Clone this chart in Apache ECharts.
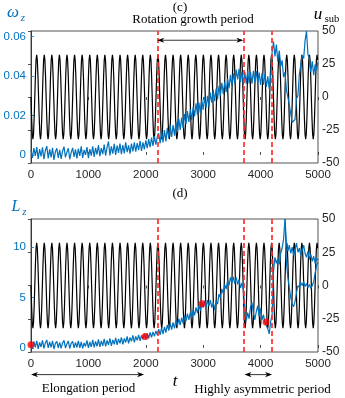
<!DOCTYPE html>
<html><head><meta charset="utf-8">
<script src="https://cdn.jsdelivr.net/npm/echarts@6/dist/echarts.min.js"></script>
<style>html,body{margin:0;padding:0;background:#fff}#c{width:345px;height:398px}</style>
</head><body><div id="c"></div>
<script>
// ---------- data ----------
const tStep = 25;              // sampling step of the blue curves (t units)
const omegaZ = [
0.0025,-0.0015,0.0035,-0.0005,0.0040,-0.0020,0.0030,-0.0008,0.0038,-0.0022,
0.0022,0.0045,-0.0018,0.0028,-0.0012,0.0036,-0.0025,0.0016,0.0034,-0.0015,
0.0026,-0.0020,0.0020,0.0042,-0.0012,0.0014,0.0034,-0.0022,0.0012,0.0036,
-0.0010,0.0028,-0.0018,0.0032,-0.0005,0.0044,-0.0015,0.0026,0.0000,0.0040,
-0.0016,0.0030,-0.0004,0.0044,-0.0010,0.0036,0.0002,0.0050,-0.0006,0.0034,
0.0004,0.0052,-0.0004,0.0040,0.0068,-0.0002,0.0044,0.0006,0.0056,0.0000,
0.0048,0.0010,0.0058,0.0004,0.0050,0.0008,0.0064,0.0014,0.0048,0.0006,
0.0058,0.0018,0.0064,0.0016,0.0060,0.0024,0.0072,0.0020,0.0064,0.0028,
0.0074,0.0034,0.0080,0.0040,0.0088,0.0046,0.0095,0.0052,0.0092,0.0110,
0.0059,0.0121,0.0063,0.0126,0.0069,0.0137,0.0086,0.0150,0.0091,0.0152,
0.0098,0.0167,0.0115,0.0183,0.0127,0.0189,0.0136,0.0207,0.0156,0.0222,
0.0167,0.0231,0.0177,0.0246,0.0196,0.0262,0.0203,0.0266,0.0213,0.0281,
0.0229,0.0295,0.0238,0.0300,0.0246,0.0316,0.0265,0.0330,0.0273,0.0337,
0.0282,0.0351,0.0301,0.0366,0.0308,0.0371,0.0318,0.0388,0.0337,0.0406,
0.0350,0.0414,0.0361,0.0433,0.0383,0.0437,0.0370,0.0423,0.0357,0.0420,
0.0362,0.0425,0.0363,0.0421,0.0362,0.0427,0.0369,0.0426,0.0362,0.0418,
0.0355,0.0415,0.0356,0.0412,0.0345,0.0399,0.0336,0.0395,0.0520,0.0575,
0.0500,0.0560,0.0475,0.0530,0.0450,0.0480,0.0395,0.0420,0.0330,0.0335,
0.0255,0.0250,0.0165,0.0170,0.0180,0.0285,0.0300,0.0410,0.0400,0.0505,
0.0490,0.0580,0.0628,0.0510,0.0490,0.0420,0.0475,0.0405,0.0460,0.0430,
0.0470];
const Lz = [
0.35,-0.05,0.65,0.05,0.70,-0.10,0.55,0.10,0.75,-0.05,
0.50,0.80,0.00,0.60,0.05,0.70,-0.10,0.45,0.65,0.00,
0.55,-0.05,0.50,0.75,0.00,0.40,0.70,-0.05,0.45,0.65,
0.00,0.55,0.05,0.70,0.00,0.60,-0.05,0.50,0.15,0.75,
0.00,0.60,0.10,0.80,0.05,0.65,0.15,0.85,0.10,0.70,
0.20,0.90,0.15,0.75,0.30,0.95,0.20,0.80,0.35,1.00,
0.30,0.90,0.45,1.05,0.35,0.95,0.55,1.15,0.45,1.05,
0.65,1.25,0.55,1.15,0.75,1.30,0.70,1.25,0.85,1.40,
0.90,1.45,0.95,1.55,1.05,1.60,1.15,1.70,1.30,1.87,
1.29,2.01,1.38,2.10,1.52,2.29,1.72,2.44,1.81,2.53,
1.95,2.73,2.17,2.90,2.28,3.02,2.45,3.23,2.67,3.40,
2.78,3.52,2.95,3.78,3.25,4.03,3.45,4.23,3.70,4.53,
4.00,4.70,4.05,4.75,4.15,4.75,4.00,4.55,3.75,4.70,
4.35,5.35,5.00,5.87,5.40,6.28,5.85,6.70,6.20,7.00,
6.45,7.05,6.35,7.00,6.30,6.80,5.95,6.45,5.80,4.00,
2.70,3.50,2.90,4.10,4.50,3.50,2.80,3.60,4.20,3.10,
3.90,2.80,3.30,2.50,2.60,1.90,1.40,2.60,3.30,7.60,
9.00,8.40,8.90,8.30,9.40,9.90,10.80,12.80,10.50,9.60,
10.20,9.40,10.00,9.20,9.80,10.40,9.50,9.90,9.20,9.70,
10.20,9.40,9.00,9.60,8.80,9.30,8.60,9.10,8.40,8.90,
8.70];
const LzBranchStart = 4425;    // second (lower) blue branch after the peak
const LzBranch = [12.8,8.5,7.0,6.0,5.0,4.4,4.1,4.6,5.5,6.2,6.0,6.5,6.2,6.6,6.1,6.4,6.0,6.3,5.9,6.2,6.6,7.4,8.2,8.5];
const forcingPeriod = 132;     // black u_sub forcing
const forcingCycle = [0,-16,-28,-32,-28,-16,0,16,28,32,28,16];
const tMax = 5000;
const periodLines = [2200, 3710, 4200];
const dotT = [0, 1990, 2980, 4095];
const dotL = [0.33, 1.15, 4.4, 2.57];
const omegaTicks = [0, 0.02, 0.04, 0.06];
const LzTicks = [0, 5, 10];

// ---------- build ----------
const omegaData = omegaZ.map((v, i) => [i * tStep, v]);
const LzData = Lz.map((v, i) => [i * tStep, v]);
const LzBranchData = LzBranch.map((v, i) => [LzBranchStart + i * tStep, v]);
const forcing = [];
const n = forcingCycle.length;
for (let k = 0; k * forcingPeriod / n <= tMax; k++) forcing.push([k * forcingPeriod / n, forcingCycle[k % n]]);

const BLUE = '#0072BD', INK = '#262626';
const FONT = 'Liberation Sans';
const SERIF = 'Liberation Serif';

function xAx(grid, pos) {
  return {
    type: 'value', gridIndex: grid, min: 0, max: tMax, interval: 1000, position: pos,
    axisLine: { show: false },
    axisTick: { show: true, inside: true, length: 3, lineStyle: { color: INK, width: 0.8 } },
    axisLabel: { show: pos === 'bottom', color: INK, fontSize: 11.5, fontFamily: FONT, margin: 6, formatter: v => String(v) },
    splitLine: { show: false }
  };
}
function leftAx(grid, min, max, ticks, fmt) {
  return {
    type: 'value', gridIndex: grid, min: min, max: max, position: 'left',
    axisLine: { show: true, lineStyle: { color: '#4d9fd6', width: 1 } },
    axisTick: { show: true, inside: true, length: 3, customValues: ticks, lineStyle: { color: BLUE, width: 0.8 } },
    axisLabel: { show: true, customValues: ticks, color: BLUE, fontSize: 11.5, fontFamily: FONT, margin: 5, formatter: fmt },
    splitLine: { show: false }
  };
}
function rightAx(grid) {
  return {
    type: 'value', gridIndex: grid, min: -50, max: 50, interval: 25, position: 'right',
    axisLine: { show: true, lineStyle: { color: INK, width: 0.8 } },
    axisTick: { show: true, inside: true, length: 3, lineStyle: { color: INK, width: 0.8 } },
    axisLabel: { show: true, color: INK, fontSize: 12, fontFamily: FONT, margin: 4 },
    splitLine: { show: false }
  };
}
const redLine = {
  silent: true, symbol: ['none', 'none'], label: { show: false }, animation: false,
  lineStyle: { color: 'rgba(255,45,45,0.85)', width: 2, type: [5, 3] },
  data: periodLines.map(t => ({ xAxis: t }))
};

const chart = echarts.init(document.getElementById('c'), null, { renderer: 'canvas' });
chart.setOption({
  animation: false,
  grid: [
    { left: 31, top: 31, width: 287, height: 132, show: true, borderColor: INK, borderWidth: 0.8, backgroundColor: 'transparent' },
    { left: 31, top: 219, width: 287, height: 133, show: true, borderColor: INK, borderWidth: 0.8, backgroundColor: 'transparent' }
  ],
  xAxis: [xAx(0, 'bottom'), xAx(1, 'bottom'), xAx(0, 'top'), xAx(1, 'top')],
  yAxis: [
    leftAx(0, -0.0041, 0.0629, omegaTicks, v => v === 0 ? '0' : v.toFixed(2)),
    rightAx(0),
    leftAx(1, -0.4, 12.8, LzTicks, v => String(v)),
    rightAx(1)
  ],
  series: [
    { type: 'line', xAxisIndex: 0, yAxisIndex: 1, data: forcing, showSymbol: false, symbol: 'none',
      lineStyle: { color: '#000', width: 1.2 }, z: 2 },
    { type: 'line', xAxisIndex: 0, yAxisIndex: 0, data: omegaData, showSymbol: false, symbol: 'none',
      lineStyle: { color: BLUE, width: 1.2 }, z: 3, markLine: redLine },
    { type: 'line', xAxisIndex: 1, yAxisIndex: 3, data: forcing, showSymbol: false, symbol: 'none',
      lineStyle: { color: '#000', width: 1.2 }, z: 2 },
    { type: 'line', xAxisIndex: 1, yAxisIndex: 2, data: LzData, showSymbol: false, symbol: 'none',
      lineStyle: { color: BLUE, width: 1.2 }, z: 3, markLine: redLine },
    { type: 'line', xAxisIndex: 1, yAxisIndex: 2, data: LzBranchData, showSymbol: false, symbol: 'none',
      lineStyle: { color: BLUE, width: 1.2 }, z: 3 },
    { type: 'scatter', xAxisIndex: 1, yAxisIndex: 2, data: dotT.map((t, i) => [t, dotL[i]]),
      symbolSize: 7, itemStyle: { color: '#ff0000' }, z: 6 }
  ]
});

// ---------- annotations positioned through the axes ----------
const px = (xi, t) => chart.convertToPixel({ xAxisIndex: xi }, t);
const py = (yi, v) => chart.convertToPixel({ yAxisIndex: yi }, v);
function arrow(xa, xb, y) {
  const L = 7, W = 2.6, B = 5;
  return [
    { type: 'line', shape: { x1: xa + 2, y1: y, x2: xb - 2, y2: y }, style: { stroke: '#000', lineWidth: 0.8 }, z: 20 },
    { type: 'polygon', shape: { points: [[xa, y], [xa + L, y - W], [xa + B, y], [xa + L, y + W]] }, style: { fill: '#000' }, z: 20 },
    { type: 'polygon', shape: { points: [[xb, y], [xb - L, y - W], [xb - B, y], [xb - L, y + W]] }, style: { fill: '#000' }, z: 20 }
  ];
}
function txt(x, y, s, size, opts) {
  return Object.assign({ type: 'text', x: x, y: y, z: 20,
    style: Object.assign({ text: s, fontSize: size, fontFamily: SERIF, fill: '#000', align: 'center', verticalAlign: 'middle' }, opts || {}) });
}
const g = [];
g.push(...arrow(px(0, 2200), px(0, 3700), py(1, 43)));
const yb = py(3, -67);
g.push(...arrow(px(1, 0), px(1, 1970), yb));
g.push(...arrow(px(1, 3720), px(1, 4200), yb));
g.push(txt(180, 7.5, '(c)', 13));
g.push(txt(193, 20, 'Rotation growth period', 13));
g.push(txt(180, 194, '(d)', 13));
g.push(txt(88.5, 389, 'Elongation period', 13));
g.push(txt(262.5, 390, 'Highly asymmetric period', 13));
g.push(txt(175, 382, 't', 17, { fontStyle: 'italic' }));
g.push(txt(13, 13, 'ω', 17, { fontStyle: 'italic', fill: BLUE }));
g.push(txt(23, 18, 'z', 11, { fontStyle: 'italic', fill: BLUE }));
g.push(txt(16, 207, 'L', 16, { fontStyle: 'italic', fill: BLUE }));
g.push(txt(24.5, 212, 'z', 11, { fontStyle: 'italic', fill: BLUE }));
g.push(txt(318, 15, 'u', 17, { fontStyle: 'italic' }));
g.push(txt(332, 19, 'sub', 10.5));
chart.setOption({ graphic: g });
</script>
</body></html>
